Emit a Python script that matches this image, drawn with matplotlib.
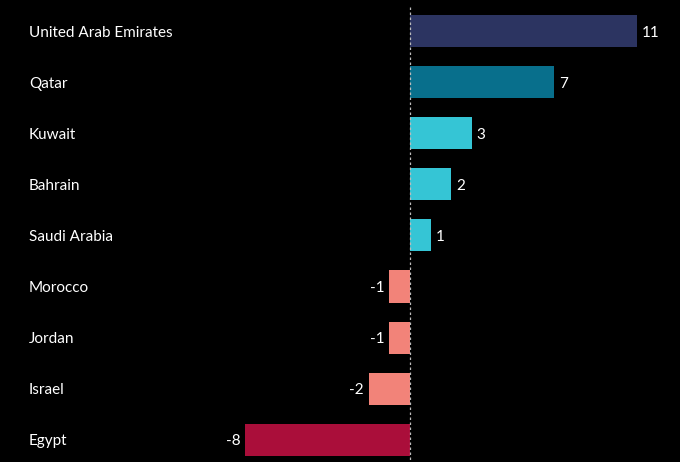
import matplotlib.pyplot as plt

countries = ["United Arab Emirates", "Qatar", "Kuwait", "Bahrain", "Saudi Arabia",
             "Morocco", "Jordan", "Israel", "Egypt"]
values = [11, 7, 3, 2, 1, -1, -1, -2, -8]
colors = ["#2c3461", "#086f8c", "#35c5d5", "#35c5d5", "#35c5d5",
          "#f28379", "#f28379", "#f28379", "#aa0e3a"]

plt.rcParams['font.family'] = ['Lato', 'DejaVu Sans']

fig = plt.figure(figsize=(6.8, 4.62), dpi=100)
fig.patch.set_facecolor("black")
ax = fig.add_axes([0, 0, 1, 1])
ax.set_facecolor("black")

px = 20.6  # pixels per unit
ax.set_xlim(-410 / px, 270 / px)
ax.set_ylim((462 - 31) / 51.1, -31 / 51.1)

y = list(range(len(countries)))
ax.barh(y, values, height=0.63, color=colors)

ax.vlines(0, -24 / 51.1, (462 - 31) / 51.1, colors="#bbbbbb", linestyles=(0, (2, 2)), lw=0.9)

for yi, name, v in zip(y, countries, values):
    ax.text(29 / 680, yi, name, transform=ax.get_yaxis_transform(),
            color="white", fontsize=11, va="center_baseline", ha="left")
    off = 5 / px
    if v >= 0:
        ax.text(v + off, yi, str(v), color="white", fontsize=11, va="center_baseline", ha="left")
    else:
        ax.text(v - off, yi, str(v), color="white", fontsize=11, va="center_baseline", ha="right")

ax.axis("off")
fig.savefig("out.png", dpi=100, facecolor="black")
